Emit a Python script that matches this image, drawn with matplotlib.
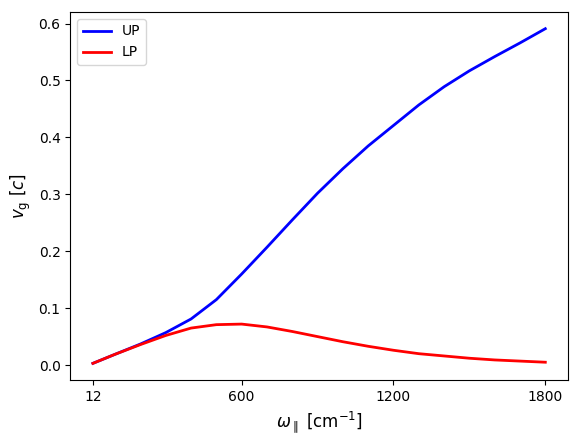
import numpy as np
import matplotlib.pyplot as plt

# in-plane frequency (cm^-1)
omega = [12, 100, 200, 300, 400, 500, 600, 700, 800, 900, 1000,
         1100, 1200, 1300, 1400, 1500, 1600, 1700, 1800]
# group velocities (units of c)
v_up = [0.003, 0.019, 0.037, 0.057, 0.081, 0.115, 0.160, 0.207, 0.255, 0.302, 0.345,
        0.385, 0.421, 0.457, 0.489, 0.517, 0.542, 0.566, 0.591]
v_lp = [0.003, 0.019, 0.036, 0.052, 0.065, 0.071, 0.072, 0.067, 0.059, 0.050, 0.041,
        0.033, 0.026, 0.020, 0.016, 0.012, 0.009, 0.007, 0.005]

fig, ax = plt.subplots(figsize=(5.76, 4.43), dpi=100)
ax.plot(omega, v_up, color='blue', lw=2, label='UP')
ax.plot(omega, v_lp, color='red', lw=2, label='LP')

ax.set_xticks([12, 600, 1200, 1800])
ax.set_xlabel(r'$\omega_\parallel$ [cm$^{-1}$]', fontsize=12)
ax.set_ylabel(r'$v_{\rm g}$ [$c$]', fontsize=12)
ax.legend(loc='upper left')
fig.subplots_adjust(left=0.122, right=0.986, top=0.973, bottom=0.142)
plt.savefig('out.png', dpi=100)
